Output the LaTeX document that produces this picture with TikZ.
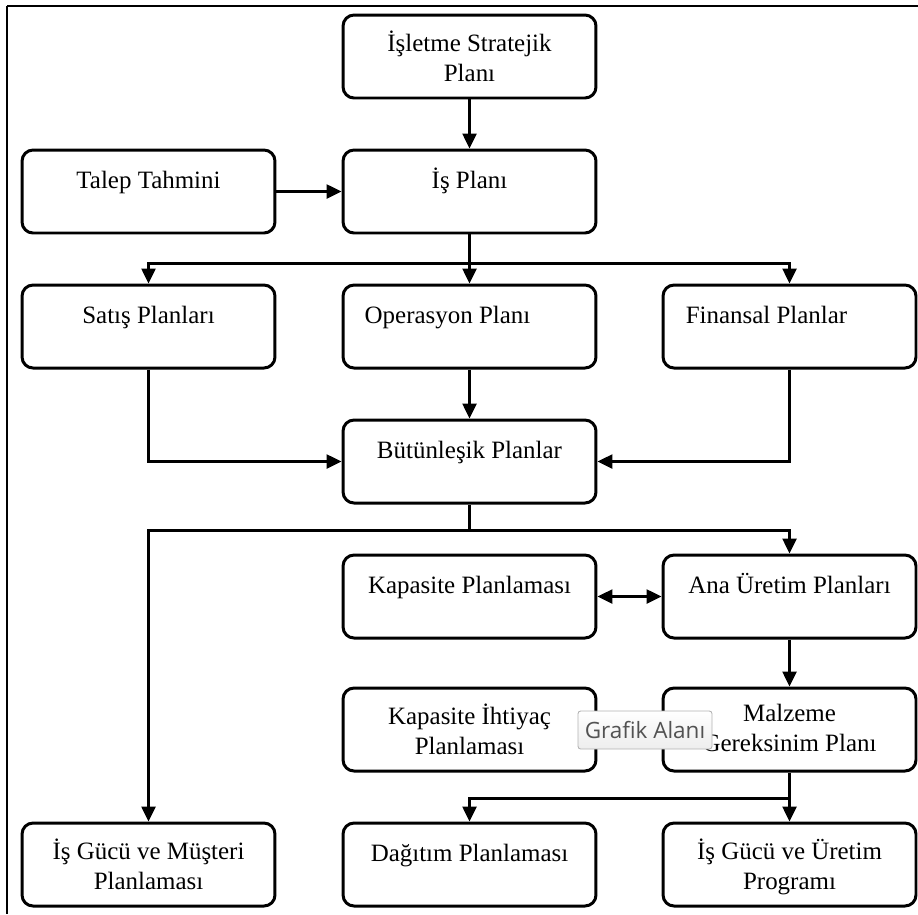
\documentclass[tikz,border=0pt]{standalone}
\usepackage{fontspec}
\setmainfont{Liberation Serif}
\newfontfamily\tipfont{Open Sans}
\usetikzlibrary{arrows.meta,positioning}

\begin{document}
\begin{tikzpicture}[x=0.02cm,y=-0.02cm,
	kutu/.style={draw,line width=1.7pt,rounded corners=0.22cm,minimum width=5.06cm,minimum height=1.66cm,inner sep=0pt},
	yazi/.style={anchor=north,align=center,inner sep=0pt,font=\fontsize{14.2}{17.2}\selectfont,
		execute at begin node=\rule{0pt}{13pt}},
	ok/.style={line width=1.4pt,-{Triangle[length=0.3cm,width=0.28cm]}},
	ciftok/.style={line width=1.4pt,{Triangle[length=0.3cm,width=0.28cm]}-{Triangle[length=0.3cm,width=0.28cm]}},
	hat/.style={line width=1.4pt},
	ipucu/.style={draw=gray!60,line width=0.5pt,rounded corners=1.5pt,top color=white,bottom color=gray!14,
		minimum width=2.68cm,minimum height=0.76cm,inner sep=0pt,text=black!68,font=\tipfont\fontsize{12.8}{14}\selectfont}]
		\useasboundingbox (0,0) rectangle (918,914);
		% cerceve
		\draw[line width=1.5pt] (7,6) -- (918,6);
		\draw[line width=0.8pt] (7,6) -- (7,914);
		
		% kutular
		\foreach \n/\x/\y in {strat/469.5/56.5,talep/148.5/191.5,isplan/469.5/191.5,
			satis/148.5/326.5,oper/469.5/326.5,finans/789.5/326.5,butun/469.5/461.5,
			kapasite/469.5/596.5,ana/789.5/596.5,ihtiyac/469.5/729.5,mrp/789.5/729.5,
			igm/148.5/864.5,dagitim/469.5/864.5,igu/789.5/864.5}
		\node[kutu] (\n) at (\x,\y) {};
		
		% yazilar
		\foreach \n/\dx/\t in {strat/0/{İşletme Stratejik\\Planı},talep/0/{Talep Tahmini},isplan/0/{İş Planı},
			satis/0/{Satış Planları},oper/-22/{Operasyon Planı},finans/-23/{Finansal Planlar},
			butun/0/{Bütünleşik Planlar},kapasite/0/{Kapasite Planlaması},ana/0/{Ana Üretim Planları},
			ihtiyac/0/{Kapasite İhtiyaç\\Planlaması},mrp/0/{Malzeme\\Gereksinim Planı},
			igm/0/{İş Gücü ve Müşteri\\Planlaması},dagitim/0/{Dağıtım Planlaması},igu/0/{İş Gücü ve Üretim\\Programı}}
		\node[yazi] at ([xshift=\dx*0.02cm,yshift=-0.8cm+13pt]\n.north) {\t};
		
		% baglantilar
		\draw[ok] (strat) -- (isplan);
		\draw[ok] (talep) -- (isplan);
		\coordinate (b1) at ([yshift=-0.58cm]isplan.south);
		\draw[hat] (isplan) -- (b1);
		\draw[ok] (b1) -| (satis);
		\draw[ok] (b1) -- (oper);
		\draw[ok] (b1) -| (finans);
		\draw[ok] (satis) |- (butun);
		\draw[ok] (oper) -- (butun);
		\draw[ok] (finans) |- (butun);
		\coordinate (b2) at ([yshift=-0.52cm]butun.south);
		\draw[hat] (butun) -- (b2);
		\draw[ok] (b2) -| (igm);
		\draw[ok] (b2) -| (ana);
		\draw[ciftok] (kapasite) -- (ana);
		\draw[ok] (ana) -- (mrp);
		\coordinate (b3) at ([yshift=-0.52cm]mrp.south);
		\draw[ok] (mrp) -- (igu);
		\draw[ok] (b3) -| (dagitim);
		
		% ipucu
		\node[ipucu] (tip) at (645,730) {Grafik Alanı};
\end{tikzpicture}
\end{document}
